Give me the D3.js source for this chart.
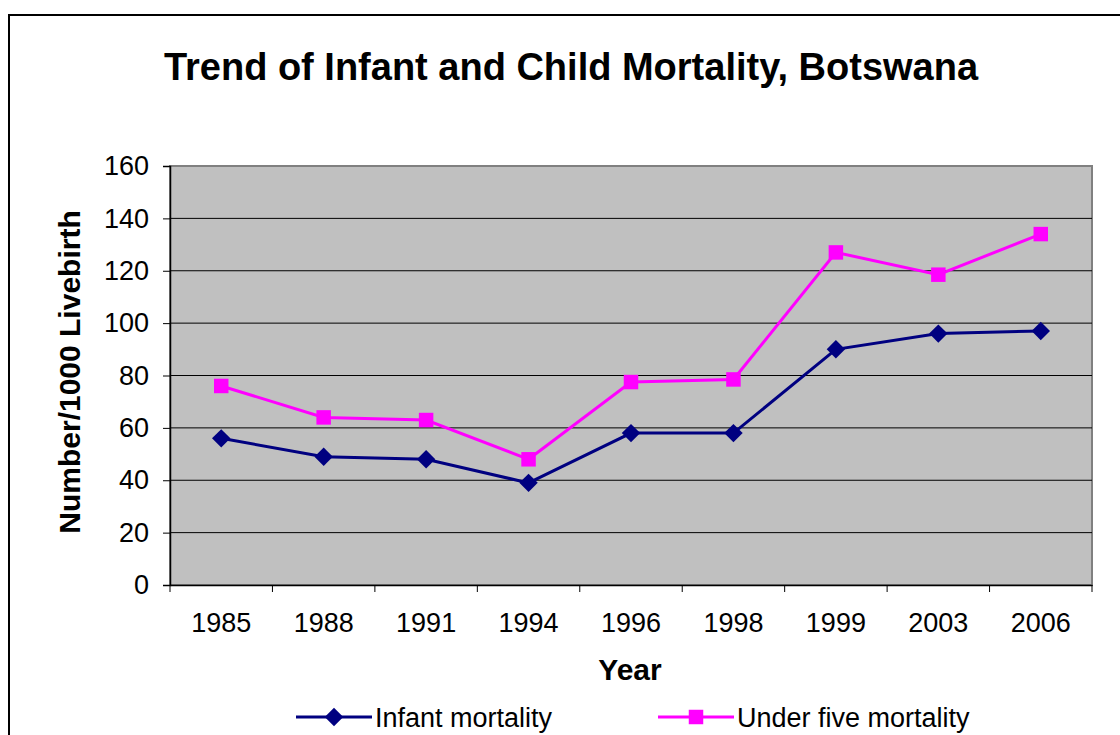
<!DOCTYPE html>
<html>
<head>
<meta charset="utf-8">
<script src="https://cdn.jsdelivr.net/npm/d3@7"></script>
<style>
  body { margin: 0; background: #fff; }
  text { font-family: "Liberation Sans", Arial, sans-serif; }
</style>
</head>
<body>
<div id="chart"></div>
<script>
// data
var years = ["1985", "1988", "1991", "1994", "1996", "1998", "1999", "2003", "2006"];
var infantMortality = [56, 49, 48, 39, 58, 58, 90, 96, 97];
var underFiveMortality = [76, 64, 63, 48, 77.5, 78.5, 127, 118.5, 134];
var yTicks = [0, 20, 40, 60, 80, 100, 120, 140, 160];

var svgWidth = 1120, svgHeight = 735;
var margin = {top: 166, right: 28, bottom: 150, left: 170};
var width = 1092 - margin.left;
var height = 585 - margin.top;

var svg = d3.select("#chart").append("svg")
    .attr("width", svgWidth)
    .attr("height", svgHeight);

// outer chart border
svg.append("rect")
    .attr("x", 9).attr("y", 15)
    .attr("width", 1200).attr("height", 800)
    .attr("fill", "none")
    .attr("stroke", "#000")
    .attr("stroke-width", 2);

svg.append("text")
    .attr("x", 571).attr("y", 80)
    .attr("text-anchor", "middle")
    .style("font-size", "38px")
    .style("font-weight", "bold")
    .text("Trend of Infant and Child Mortality, Botswana");

var chartGroup = svg.append("g")
    .attr("transform", `translate(${margin.left}, ${margin.top})`);

var xScale = d3.scaleBand().domain(years).range([0, width]);
var yScale = d3.scaleLinear().domain([0, 160]).range([height, 0]);

// plot background
chartGroup.append("rect")
    .attr("width", width).attr("height", height)
    .attr("fill", "#c0c0c0")
    .attr("stroke", "#808080")
    .attr("stroke-width", 2);

// gridlines
chartGroup.selectAll(".grid")
    .data(yTicks.filter(d => d > 0 && d < 160))
    .enter()
    .append("line")
    .attr("x1", 0).attr("x2", width)
    .attr("y1", d => yScale(d)).attr("y2", d => yScale(d))
    .attr("stroke", "#000")
    .attr("stroke-width", 1);

// y axis
var leftAxis = d3.axisLeft(yScale).tickValues(yTicks).tickSize(7).tickPadding(14);
var yAxis = chartGroup.append("g").call(leftAxis);
yAxis.select(".domain").attr("stroke", "#000").attr("stroke-width", 1.5);
yAxis.selectAll("text").style("font-size", "27px").attr("fill", "#000")
    .attr("font-family", "Liberation Sans, Arial, sans-serif");

// x axis, ticks between categories
var bottomAxis = d3.axisBottom(xScale).tickSize(0).tickPadding(28);
var xAxis = chartGroup.append("g")
    .attr("transform", `translate(0, ${height})`)
    .call(bottomAxis);
xAxis.select(".domain").attr("stroke", "#000").attr("stroke-width", 1.5);
xAxis.selectAll("text").style("font-size", "27px").attr("fill", "#000")
    .attr("font-family", "Liberation Sans, Arial, sans-serif");
xAxis.selectAll(".sep")
    .data(d3.range(years.length + 1))
    .enter()
    .append("line")
    .attr("x1", i => i * xScale.step()).attr("x2", i => i * xScale.step())
    .attr("y1", 0).attr("y2", 7)
    .attr("stroke", "#000");

// axis titles
svg.append("text")
    .attr("transform", "translate(80, 372) rotate(-90)")
    .attr("text-anchor", "middle")
    .style("font-size", "30px")
    .style("font-weight", "bold")
    .text("Number/1000 Livebirth");

svg.append("text")
    .attr("x", 630).attr("y", 680)
    .attr("text-anchor", "middle")
    .style("font-size", "30px")
    .style("font-weight", "bold")
    .text("Year");

var xc = d => xScale(d) + xScale.bandwidth() / 2;
// diamond = square turned 45 degrees
var series = [
    {name: "Infant mortality", values: infantMortality, color: "#000080", size: 170, rot: 45},
    {name: "Under five mortality", values: underFiveMortality, color: "#ff00ff", size: 210, rot: 0}
];

var line = d3.line()
    .x((d, i) => xc(years[i]))
    .y(d => yScale(d));

series.forEach(function(s) {
    chartGroup.append("path")
        .attr("d", line(s.values))
        .attr("fill", "none")
        .attr("stroke", s.color)
        .attr("stroke-width", 3);

    chartGroup.selectAll(null)
        .data(s.values)
        .enter()
        .append("path")
        .attr("d", d3.symbol().type(d3.symbolSquare).size(s.size))
        .attr("transform", (d, i) => `translate(${xc(years[i])}, ${yScale(d)}) rotate(${s.rot})`)
        .attr("fill", s.color);
});

// legend
var legendX = [296, 658];
series.forEach(function(s, i) {
    var g = svg.append("g").attr("transform", `translate(${legendX[i]}, 717)`);
    g.append("line")
        .attr("x1", 0).attr("x2", 76)
        .attr("stroke", s.color).attr("stroke-width", 3);
    g.append("path")
        .attr("d", d3.symbol().type(d3.symbolSquare).size(s.size))
        .attr("transform", `translate(38, 0) rotate(${s.rot})`)
        .attr("fill", s.color);
    g.append("text")
        .attr("x", 79).attr("y", 10)
        .style("font-size", "27px")
        .text(s.name);
});
</script>
</body>
</html>
